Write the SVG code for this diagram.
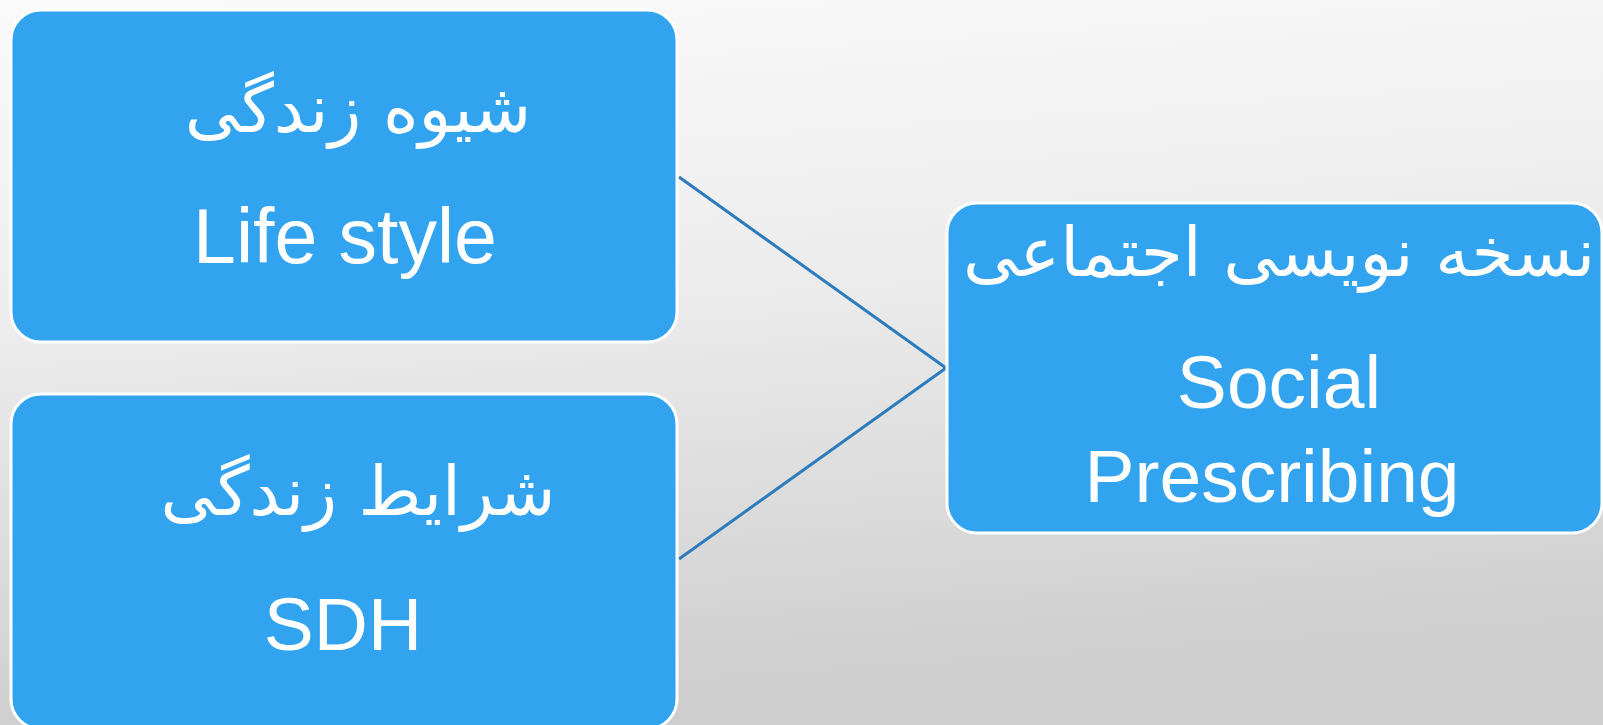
<svg xmlns="http://www.w3.org/2000/svg" width="1603" height="725" viewBox="0 0 1603 725">
  <defs>
    <linearGradient id="bg" x1="0" y1="0" x2="0.15" y2="1">
      <stop offset="0" stop-color="#fafafa"/>
      <stop offset="0.45" stop-color="#ececec"/>
      <stop offset="1" stop-color="#cecece"/>
    </linearGradient>
    <style>
      .box { fill: #32a3ee; stroke: #ffffff; stroke-width: 3; }
      .en { font-family: "Liberation Sans", Arial, sans-serif; font-size: 75px; fill: #ffffff; text-anchor: middle; }
      .fa { font-family: "DejaVu Sans", "Noto Sans", sans-serif; font-size: 68px; fill: #ffffff; text-anchor: middle; direction: rtl; }
      .conn { stroke: #2b7bbd; stroke-width: 3; fill: none; }
    </style>
  </defs>
  <rect x="0" y="0" width="1603" height="725" fill="url(#bg)"/>
  <g id="connectors">
    <line class="conn" x1="679" y1="177" x2="946" y2="368"/>
    <line class="conn" x1="679" y1="559" x2="946" y2="368"/>
  </g>
  <g id="node-lifestyle">
    <rect class="box" x="11" y="10" width="666" height="332" rx="30" ry="30"/>
    <text class="fa" x="358" y="132">شیوه زندگی</text>
    <text class="en" x="345" y="263" style="font-size:77px">Life style</text>
  </g>
  <g id="node-sdh">
    <rect class="box" x="11" y="394" width="666" height="335" rx="30" ry="30"/>
    <text class="fa" x="358" y="515">شرایط زندگی</text>
    <text class="en" x="343" y="650">SDH</text>
  </g>
  <g id="node-social">
    <rect class="box" x="947" y="203" width="655" height="330" rx="30" ry="30"/>
    <text class="fa" x="1279" y="276">نسخه نویسی اجتماعی</text>
    <text class="en" x="1279" y="408">Social</text>
    <text class="en" x="1272" y="502">Prescribing</text>
  </g>
</svg>
